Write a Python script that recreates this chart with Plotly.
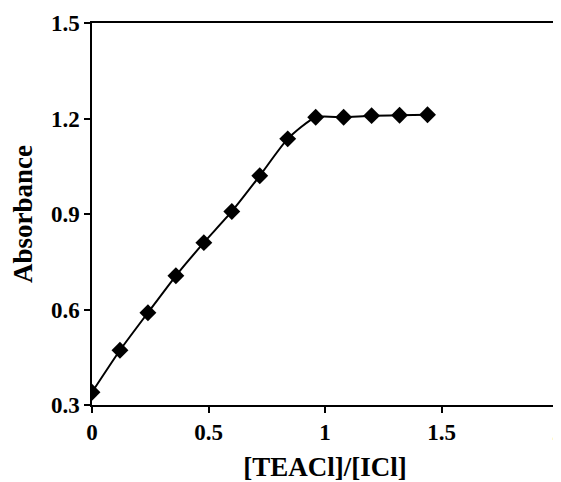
import plotly.graph_objects as go

# ratio [TEACl]/[ICl] vs absorbance
ratio = [0, 0.12, 0.24, 0.36, 0.48, 0.60, 0.72, 0.84, 0.96, 1.08, 1.20, 1.32, 1.44]
absorbance = [0.340, 0.472, 0.590, 0.706, 0.810, 0.908, 1.020, 1.136, 1.204, 1.204, 1.209, 1.210, 1.212]

x_ticks = [0, 0.5, 1, 1.5, 2]
y_ticks = [0.3, 0.6, 0.9, 1.2, 1.5]

fig = go.Figure()
fig.add_trace(go.Scatter(
    x=ratio,
    y=absorbance,
    mode="lines+markers",
    line=dict(color="black", width=2, shape="spline", smoothing=0.6),
    marker=dict(symbol="diamond", size=13, color="black"),
    showlegend=False,
))

font = dict(family="Liberation Serif", color="black")

# page body has an 8px margin, so the figure is a bit smaller than the window
fig.update_layout(
    width=553,
    height=474,
    margin=dict(l=84, r=3, t=15, b=77),
    plot_bgcolor="white",
    paper_bgcolor="white",
    font=font,
)
fig.update_xaxes(
    range=[0, 2],
    tickvals=x_ticks,
    ticktext=["<b>0</b>", "<b>0.5</b>", "<b>1</b>", "<b>1.5</b>", "<b>2</b>"],
    tickfont=dict(size=23),
    ticklabeloverflow="allow",
    ticks="outside", ticklen=6, tickcolor="black", tickwidth=1.5,
    showline=True, linecolor="black", linewidth=1.5, mirror=True,
    showgrid=False, zeroline=False, automargin=False,
    title=dict(text="<b>[TEACl]/[ICl]</b>", font=dict(size=27), standoff=16),
)
fig.update_yaxes(
    range=[0.3, 1.5],
    tickvals=y_ticks,
    ticktext=["<b>0.3</b>", "<b>0.6</b>", "<b>0.9</b>", "<b>1.2</b>", "<b>1.5</b>"],
    tickfont=dict(size=23),
    ticks="outside", ticklen=6, tickcolor="black", tickwidth=1.5,
    showline=True, linecolor="black", linewidth=1.5, mirror=True,
    showgrid=False, zeroline=False, automargin=False,
    title=dict(text="<b>Absorbance</b>", font=dict(size=27), standoff=12),
)

fig.write_html("out.html")
